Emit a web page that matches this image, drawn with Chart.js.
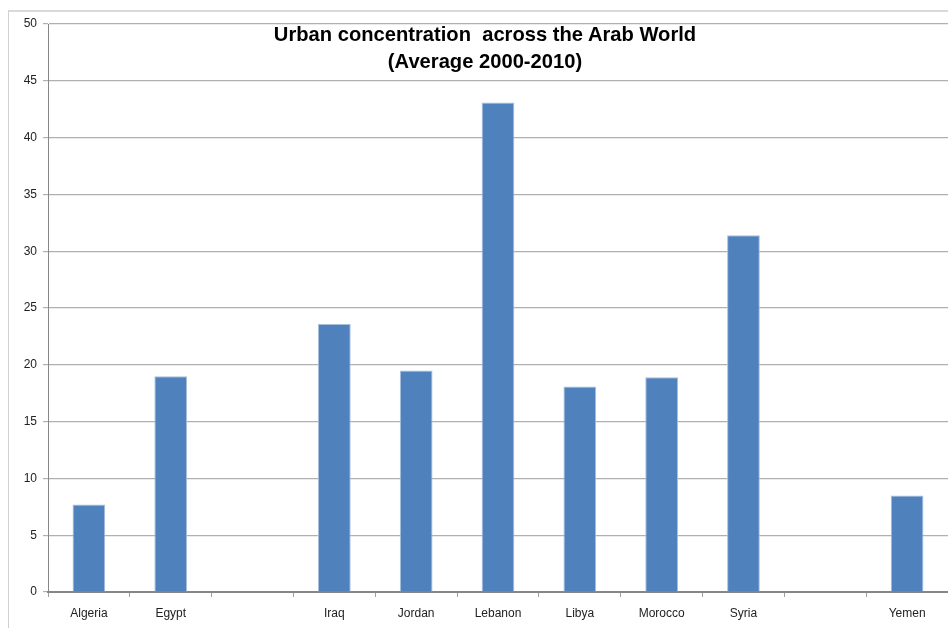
<!DOCTYPE html>
<html>
<head>
<meta charset="utf-8">
<script src="https://cdn.jsdelivr.net/npm/chart.js@4/dist/chart.umd.min.js"></script>
<style>
  html, body { margin: 0; padding: 0; background: #fff; overflow: hidden; }
  #wrap { position: relative; width: 948px; height: 628px; }
  #frame { position: absolute; left: 8px; top: 10px; width: 1000px; height: 700px;
           border-left: 1px solid #d0d0d0; border-top: 2px solid #d9d9d9; }
  #title { position: absolute; left: 185px; width: 600px; top: 20px; text-align: center;
           font-family: "Liberation Sans Narrow", "Arial Narrow", "Liberation Sans", sans-serif;
           font-weight: bold; font-size: 21px; line-height: 27px; color: #000;
           transform: scaleX(0.96); transform-origin: 50% 0; }
  canvas { position: absolute; left: 0; top: 0; }
</style>
</head>
<body>
<div id="wrap">
  <div id="frame"></div>
  <canvas id="myChart" width="948" height="628"></canvas>
  <div id="title">Urban concentration&nbsp; across the Arab World<br>(Average 2000-2010)</div>
</div>
<script>
// countries (blank slots are countries with no value in the source)
const countries = ["Algeria", "Egypt", "", "Iraq", "Jordan", "Lebanon", "Libya", "Morocco", "Syria", "", "Yemen"];
const urbanConcentration = [7.7, 19.0, null, 23.6, 19.5, 43.1, 18.1, 18.9, 31.4, null, 8.5];
const yTicks = [0, 5, 10, 15, 20, 25, 30, 35, 40, 45, 50];

const ctx = document.getElementById("myChart");

new Chart(ctx, {
    type: 'bar',
    data: {
        labels: countries,
        datasets: [{
            label: "Urban concentration",
            data: urbanConcentration,
            backgroundColor: "#4f81bd",
            borderColor: "#a7bfdc",
            borderWidth: 1,
            categoryPercentage: 1,
            barPercentage: 0.4
        }]
    },
    options: {
        responsive: false,
        animation: false,
        layout: { padding: { top: 24, right: 0, bottom: 0, left: 0 } },
        plugins: {
            legend: { display: false },
            title: { display: false },
            tooltip: { enabled: false }
        },
        scales: {
            x: {
                offset: true,
                afterFit: (scale) => { scale.height = 36; },
                grid: {
                    offset: true,
                    drawOnChartArea: false,
                    drawTicks: true,
                    tickLength: 5,
                    color: "#a0a0a0"
                },
                border: { color: "#868686", width: 2 },
                ticks: {
                    padding: 9,
                    maxRotation: 0,
                    autoSkip: false,
                    color: "#222",
                    font: { family: "Liberation Sans, Arial, sans-serif", size: 12 }
                }
            },
            y: {
                min: 0,
                max: 50,
                afterFit: (scale) => { scale.width = 48; },
                grid: {
                    color: "#b0b0b0",
                    lineWidth: 1.2,
                    tickLength: 5
                },
                border: { color: "#868686", width: 1 },
                ticks: {
                    stepSize: 5,
                    padding: 6,
                    color: "#222",
                    font: { family: "Liberation Sans, Arial, sans-serif", size: 12 },
                    callback: (value) => yTicks.includes(value) ? value : ''
                }
            }
        }
    }
});
</script>
</body>
</html>
